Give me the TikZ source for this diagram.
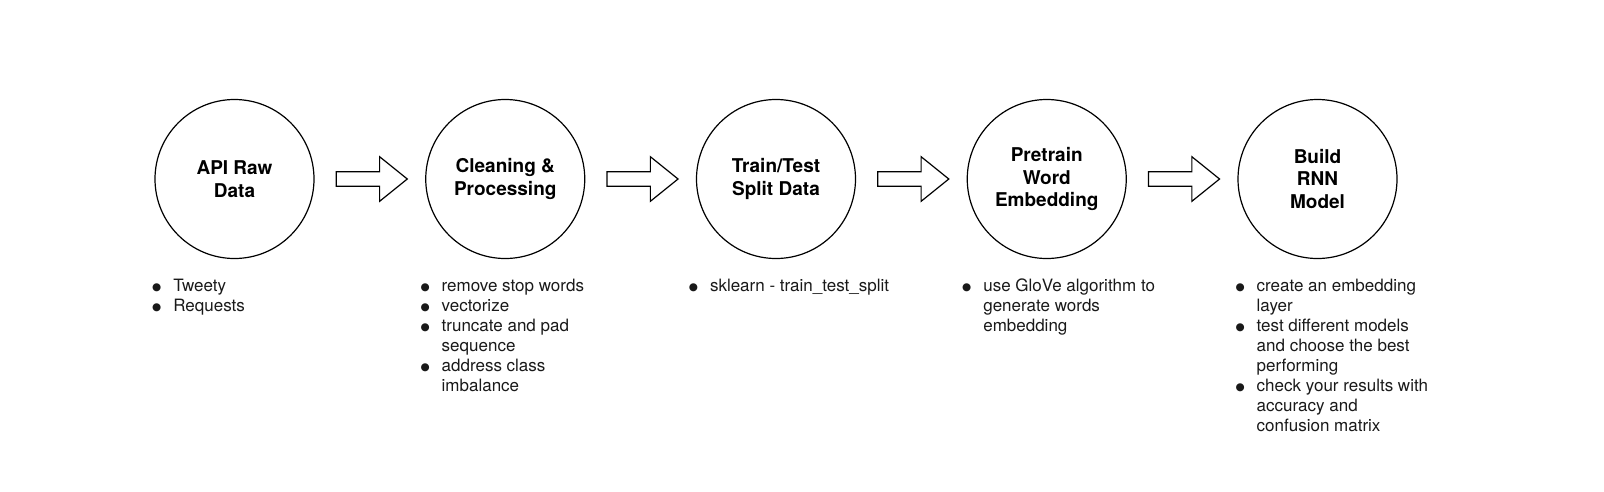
\documentclass[tikz,border=0pt]{standalone}
\usepackage{fontspec}
\setmainfont{TeX Gyre Heros}
\newfontfamily\symfont{DejaVu Sans}
\usetikzlibrary{calc}
\tikzset{
  stage/.style={draw=black, line width=1.2pt, circle, minimum size=159pt, inner sep=0pt,
    align=center, font=\fontsize{19}{22.7}\selectfont\bfseries},
  blockarrow/.style={draw=black, line width=1.2pt, fill=white, line join=miter},
  bulletlist/.style={anchor=base west, inner sep=0pt, outer sep=0pt,
    font=\fontsize{17}{20}\selectfont, text=black!90}
}
\newcommand{\bigbullet}{\raisebox{0.8pt}{\symfont\fontsize{10.5}{12}\selectfont ●}}
\newcommand{\bitem}[1]{\makebox[18pt][l]{\hspace{-3.2pt}\bigbullet} & #1\\}
\newcommand{\bcont}[1]{ & #1\\}
\newcommand{\flowarrow}[2]{%
  \draw[blockarrow] ($(#1.east)+(21.7,-7.2)$) -- ++(43.3,0) -- ++(0,-15.1)
    -- ++(27.7,22.3) -- ++(-27.7,22.3) -- ++(0,-15.1) -- ++(-43.3,0) -- cycle;}
\begin{document}
\begin{tikzpicture}[x=1pt,y=-1pt]
\useasboundingbox (0,0) rectangle (1604,491);
\node[stage] (c1) at (234.5,179) {API Raw\\Data};
\node[stage] (c2) at (505.25,179) {Cleaning \&\\Processing};
\node[stage] (c3) at (776,179) {Train/Test\\Split Data};
\node[stage] (c4) at (1046.75,179) {Pretrain\\Word\\Embedding};
\node[stage] (c5) at (1317.5,179) {Build\\RNN\\Model};
\flowarrow{c1}{c2}
\flowarrow{c2}{c3}
\flowarrow{c3}{c4}
\flowarrow{c4}{c5}
\node[bulletlist] (l1) at (155.3,291.5) {\begin{tabular}[t]{@{}l@{}l@{}}
\bitem{Tweety}
\bitem{Requests}
\end{tabular}};
\node[bulletlist] (l2) at (423.7,291.5) {\begin{tabular}[t]{@{}l@{}l@{}}
\bitem{remove stop words}
\bitem{vectorize}
\bitem{truncate and pad}
\bcont{sequence}
\bitem{address class}
\bcont{imbalance}
\end{tabular}};
\node[bulletlist] (l3) at (692,291.5) {\begin{tabular}[t]{@{}l@{}l@{}}
\bitem{sklearn - train\_test\_split}
\end{tabular}};
\node[bulletlist] (l4) at (965.3,291.5) {\begin{tabular}[t]{@{}l@{}l@{}}
\bitem{use GloVe algorithm to}
\bcont{generate words}
\bcont{embedding}
\end{tabular}};
\node[bulletlist] (l5) at (1238.7,291.5) {\begin{tabular}[t]{@{}l@{}l@{}}
\bitem{create an embedding}
\bcont{layer}
\bitem{test different models}
\bcont{and choose the best}
\bcont{performing}
\bitem{check your results with}
\bcont{accuracy and}
\bcont{confusion matrix}
\end{tabular}};
\end{tikzpicture}
\end{document}
